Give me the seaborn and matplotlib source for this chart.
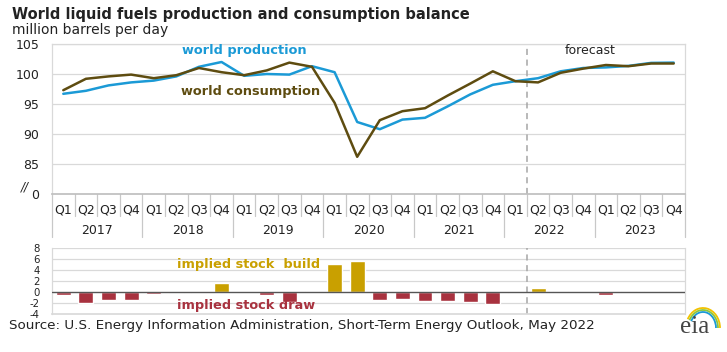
import matplotlib
matplotlib.use("Agg")
import matplotlib.pyplot as plt
import seaborn as sns
import pandas as pd
import numpy as np
from matplotlib.patches import Arc

# ---------------- data ----------------
years = ["2017", "2018", "2019", "2020", "2021", "2022", "2023"]
quarters = ["Q1", "Q2", "Q3", "Q4"]
periods = [f"{y} {q}" for y in years for q in quarters]

production = [96.7, 97.2, 98.1, 98.6, 98.9, 99.6, 101.2, 102.0,
              99.7, 100.0, 99.9, 101.3, 100.3, 92.0, 90.8, 92.4,
              92.7, 94.6, 96.6, 98.2, 98.8, 99.3, 100.45, 101.0,
              101.1, 101.35, 101.85, 101.9]
consumption = [97.3, 99.2, 99.6, 99.9, 99.3, 99.8, 101.0, 100.3,
               99.8, 100.6, 101.9, 101.2, 95.2, 86.2, 92.3, 93.8,
               94.3, 96.4, 98.4, 100.45, 98.8, 98.6, 100.2, 100.9,
               101.5, 101.3, 101.75, 101.75]
stock_change = [-0.5, -2.0, -1.4, -1.4, -0.3, -0.2, -0.1, 1.6,
                -0.05, -0.5, -1.9, 0.1, 5.1, 5.7, -1.5, -1.3,
                -1.6, -1.6, -1.8, -2.2, -0.1, 0.7, 0.2, 0.05,
                -0.5, 0.1, 0.1, 0.15]

forecast_start = 21  # index of first forecast quarter (2022 Q2)

# ---------------- style ----------------
BLUE = "#1b9ad6"
OLIVE = "#5e4c10"
GOLD = "#c9a000"
RED = "#a8323f"
GRID = "#d9d9d9"
TXT = "#222222"

sns.set_theme(style="white")
plt.rcParams["font.family"] = ["DejaVu Sans"]

fig = plt.figure(figsize=(7.27, 3.52), dpi=100)
W, H = 727, 352

def ax_rect(l, t, r, b):
    return [l / W, 1 - b / H, (r - l) / W, (b - t) / H]

ax = fig.add_axes(ax_rect(52, 44, 685, 194))
axb = fig.add_axes(ax_rect(52, 248, 685, 314))

idx = np.arange(len(periods))
df = pd.DataFrame({"i": idx, "period": periods,
                   "production": production, "consumption": consumption,
                   "stock": stock_change})
df["kind"] = np.where(df["stock"] >= 0, "build", "draw")

# ---------------- top chart ----------------
sns.lineplot(data=df, x="i", y="production", ax=ax, color=BLUE, lw=1.8)
sns.lineplot(data=df, x="i", y="consumption", ax=ax, color=OLIVE, lw=1.8)
ax.set_xlim(-0.5, len(periods) - 0.5)
ax.set_ylim(80, 105)
ax.set_yticks([80, 85, 90, 95, 100, 105])
ax.set_yticklabels(["0", "85", "90", "95", "100", "105"])
ax.tick_params(axis="y", length=0, labelsize=9, colors=TXT, pad=9)
for yv in [85, 90, 95, 100, 105]:
    ax.axhline(yv, color=GRID, lw=0.9, zorder=0)
ax.text(-0.036, 0.05, "//", transform=ax.transAxes, ha="right", va="center",
        fontsize=8.5, color=TXT, style="italic")
ax.set_xlabel("")
ax.set_ylabel("")
for s in ["left", "right", "top"]:
    ax.spines[s].set_color(GRID)
    ax.spines[s].set_linewidth(0.9)
ax.spines["bottom"].set_color("#bfbfbf")
ax.axvline(forecast_start - 0.5, color="#a6a6a6", lw=1.1, ls=(0, (4, 3)), zorder=1)

ax.set_xticks(idx)
ax.set_xticklabels([q for y in years for q in quarters], fontsize=9, color=TXT)
ax.tick_params(axis="x", length=0, pad=7)
n = len(periods)
for k in range(n + 1):
    xa = k / n
    long = (k % 4 == 0)
    ln = 43 if long else 22
    ax.plot([xa, xa], [0, -ln / 150], transform=ax.transAxes, color="#c8c8c8",
            lw=0.9, clip_on=False)
for j, y in enumerate(years):
    ax.text((4 * j + 2) / n, -36 / 150, y, transform=ax.transAxes, ha="center",
            va="center", fontsize=9, color=TXT)

ax.text(8.0, 103.9, "world production", color=BLUE, fontsize=9.3,
        fontweight="bold", ha="center", va="center")
ax.text(8.3, 97.1, "world consumption", color=OLIVE, fontsize=9.3,
        fontweight="bold", ha="center", va="center")
ax.text(23.3, 103.9, "forecast", color=TXT, fontsize=9, ha="center", va="center")

# ---------------- bottom chart ----------------
sns.barplot(data=df, x="period", y="stock", hue="kind", order=periods,
            palette={"build": GOLD, "draw": RED}, dodge=False, width=0.66,
            legend=False, ax=axb, saturation=1, zorder=2)
axb.set_xlim(-0.5, n - 0.5)
axb.set_ylim(-4, 8)
axb.set_yticks([-4, -2, 0, 2, 4, 6, 8])
axb.set_yticklabels(["-4", "-2", "0", "2", "4", "6", "8"])
axb.tick_params(axis="y", length=0, labelsize=7.3, colors=TXT, pad=9)
axb.set_xticks([])
axb.set_xlabel("")
axb.set_ylabel("")
for yv in [-2, 2, 4, 6, 8]:
    axb.axhline(yv, color=GRID, lw=0.9, zorder=0)
axb.axhline(0, color="#555555", lw=1.0, zorder=3)
for s in ["left", "right"]:
    axb.spines[s].set_color(GRID)
    axb.spines[s].set_linewidth(0.9)
axb.spines["top"].set_visible(False)
axb.spines["bottom"].set_color(GRID)
axb.axvline(forecast_start - 0.5, color="#a6a6a6", lw=1.1, ls=(0, (4, 3)), zorder=1)
axb.text(8.2, 5.0, "implied stock  build", color=GOLD, fontsize=9.3,
         fontweight="bold", ha="center", va="center")
axb.text(8.1, -2.4, "implied stock draw", color=RED, fontsize=9.3,
         fontweight="bold", ha="center", va="center")

# ---------------- titles & source ----------------
fig.text(12 / W, 1 - 14 / H, "World liquid fuels production and consumption balance",
         fontsize=10.5, fontweight="bold", color=TXT, ha="left", va="center")
fig.text(12 / W, 1 - 30 / H, "million barrels per day", fontsize=10, color=TXT,
         ha="left", va="center")
fig.text(9 / W, 1 - 326 / H,
         "Source: U.S. Energy Information Administration, Short-Term Energy Outlook, May 2022",
         fontsize=9.7, color=TXT, ha="left", va="center")

# eia logo
fig.text(695 / W, 1 - 327 / H, "eia", fontsize=18, color="#444444",
         family=["Liberation Serif", "DejaVu Serif"], ha="center", va="center")
lax = fig.add_axes(ax_rect(667, 296, 727, 340))
lax.set_xlim(667, 727)
lax.set_ylim(340, 296)
lax.axis("off")
for dr, c in [(0, "#f2c200"), (-2, "#8cc63f"), (-4, "#1b9ad6")]:
    lax.add_patch(Arc((703, 328), 2 * (17 + dr), 2 * (20 + dr), theta1=210, theta2=360,
                      color=c, lw=1.3))

fig.savefig("out.png", dpi=100)
